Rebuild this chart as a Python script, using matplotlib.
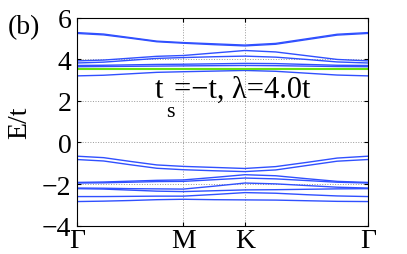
import numpy as np
import matplotlib
matplotlib.use("Agg")
import matplotlib.pyplot as plt

plt.rcParams["font.family"] = ["Liberation Serif", "DejaVu Serif"]
plt.rcParams["axes.unicode_minus"] = True

# k 路径: Γ - M - K - Γ (单位: 路径长度)
k_pts = [0.0, 0.25, 0.5, 0.75, 1.0, 1.289, 1.577, 1.866, 2.155, 2.443, 2.732]
k_ticks = [0.0, 1.0, 1.577, 2.732]
k_labels = ["Γ", "M", "K", "Γ"]

# 上能带 (E/t)
band_a1 = [5.28, 5.21, 5.04, 4.87, 4.80, 4.74, 4.68, 4.76, 4.98, 5.20, 5.28]
band_a2 = [5.24, 5.17, 5.01, 4.84, 4.77, 4.70, 4.64, 4.72, 4.94, 5.16, 5.24]
band_b1 = [3.92, 3.96, 4.05, 4.14, 4.18, 4.30, 4.42, 4.35, 4.17, 3.99, 3.92]
band_b2 = [3.82, 3.86, 3.95, 4.04, 4.08, 4.12, 4.15, 4.10, 3.99, 3.87, 3.82]
band_c1 = [3.70, 3.71, 3.73, 3.75, 3.76, 3.78, 3.80, 3.79, 3.75, 3.71, 3.70]
band_c2 = [3.64, 3.65, 3.66, 3.67, 3.68, 3.69, 3.70, 3.69, 3.67, 3.65, 3.64]
band_d = [3.20, 3.23, 3.30, 3.37, 3.40, 3.43, 3.46, 3.42, 3.33, 3.24, 3.20]
band_flat = [3.52, 3.52, 3.52, 3.52, 3.52, 3.52, 3.52, 3.52, 3.52, 3.52, 3.52]

# 下能带 (E/t)
band_l1 = [-0.66, -0.73, -0.91, -1.08, -1.15, -1.20, -1.25, -1.16, -0.96, -0.75, -0.66]
band_l2 = [-0.82, -0.89, -1.07, -1.24, -1.31, -1.36, -1.40, -1.32, -1.11, -0.90, -0.82]
band_l3 = [-1.92, -1.90, -1.86, -1.82, -1.80, -1.68, -1.55, -1.60, -1.74, -1.87, -1.92]
band_l4 = [-1.95, -1.94, -1.91, -1.88, -1.87, -1.79, -1.71, -1.75, -1.83, -1.91, -1.95]
band_l5 = [-2.19, -2.20, -2.22, -2.23, -2.24, -2.10, -1.95, -1.99, -2.07, -2.15, -2.19]
band_l6 = [-2.22, -2.24, -2.29, -2.34, -2.36, -2.32, -2.28, -2.27, -2.25, -2.23, -2.22]
band_l7 = [-2.60, -2.60, -2.59, -2.58, -2.58, -2.50, -2.41, -2.44, -2.51, -2.57, -2.60]
band_l8 = [-2.84, -2.82, -2.79, -2.75, -2.73, -2.75, -2.76, -2.77, -2.80, -2.83, -2.84]

blue_bands = [band_a1, band_a2, band_b1, band_b2, band_c1, band_c2, band_d,
              band_l1, band_l2, band_l3, band_l4, band_l5, band_l6, band_l7, band_l8]

fig = plt.figure(figsize=(4.07, 2.55), dpi=100)
ax = fig.add_axes([0.189, 0.111, 0.715, 0.816])

for b in blue_bands:
    ax.plot(k_pts, b, color="#3050ff", lw=1.0)
ax.plot(k_pts, band_flat, color="#66e014", lw=1.5)

ax.set_xlim(k_pts[0], k_pts[-1])
ax.set_ylim(-4, 6)
ax.set_yticks([-4, -2, 0, 2, 4, 6])
ax.set_xticks(k_ticks)
ax.set_xticklabels(k_labels)
ax.tick_params(direction="in", length=3, labelsize=20, top=True, right=True)
ax.tick_params(axis="y", pad=4)
ax.tick_params(axis="x", pad=2)
ax.grid(True, linestyle=":", color="#999999", lw=0.7)
ax.set_ylabel("E/t", fontsize=20, labelpad=7)
for s in ax.spines.values():
    s.set_linewidth(0.8)

# 注释文字
fig.text(0.381, 0.617, "t", fontsize=22)
fig.text(0.408, 0.54, "s", fontsize=16)
fig.text(0.428, 0.617, "=−t, λ=4.0t", fontsize=22)
fig.text(0.02, 0.865, "(b)", fontsize=20)

fig.savefig("out.png", dpi=100)
